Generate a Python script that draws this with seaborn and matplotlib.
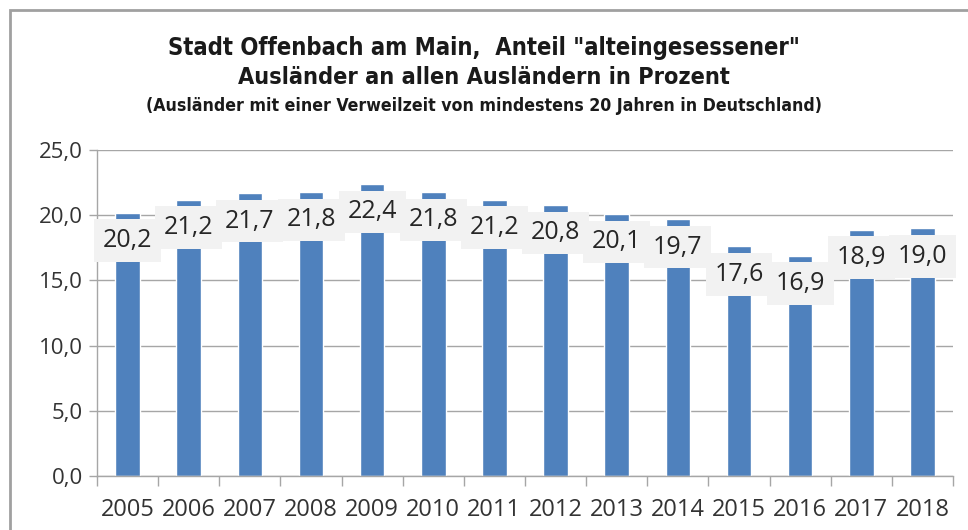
import matplotlib
matplotlib.use("Agg")
import matplotlib.pyplot as plt
import seaborn as sns
import pandas as pd
from matplotlib.patches import Rectangle

years = ["2005", "2006", "2007", "2008", "2009", "2010", "2011", "2012",
         "2013", "2014", "2015", "2016", "2017", "2018"]
values = [20.2, 21.2, 21.7, 21.8, 22.4, 21.8, 21.2, 20.8, 20.1, 19.7, 17.6, 16.9, 18.9, 19.0]
yticks = [0, 5, 10, 15, 20, 25]
title1 = 'Stadt Offenbach am Main,  Anteil "alteingesessener"'
title2 = "Ausländer an allen Ausländern in Prozent"
subtitle = "(Ausländer mit einer Verweilzeit von mindestens 20 Jahren in Deutschland)"

sns.set_theme(style="white")
plt.rcParams["font.family"] = ["Open Sans", "DejaVu Sans"]

df = pd.DataFrame({"year": years, "value": values})

fig = plt.figure(figsize=(9.68, 5.3), dpi=100)
ax = fig.add_axes([97 / 968, 1 - 476 / 530, (953 - 97) / 968, (476 - 150) / 530])

sns.barplot(data=df, x="year", y="value", color="#4f81bd", width=0.4,
            saturation=1, ax=ax, zorder=2)

ax.set_ylim(0, 25)
ax.set_xlim(-0.5, len(years) - 0.5)
ax.set_yticks(yticks)
ax.set_yticklabels([f"{v:.1f}".replace(".", ",") for v in yticks],
                   fontsize=16, color="#333333")
ax.set_xticks(range(len(years)))
ax.set_xticklabels(years, fontsize=17, color="#333333")
ax.set_xlabel("")
ax.set_ylabel("")
ax.grid(axis="y", color="#a6a6a6", linewidth=1, zorder=0)
ax.set_axisbelow(True)
for s in ["top", "right"]:
    ax.spines[s].set_visible(False)
for s in ["left", "bottom"]:
    ax.spines[s].set_color("#a6a6a6")
    ax.spines[s].set_linewidth(1)
ax.tick_params(axis="y", which="major", length=6, color="#a6a6a6", width=1,
               direction="out", left=True, pad=4)
ax.tick_params(axis="x", which="major", length=0, pad=16)
ax.set_xticks([i + 0.5 for i in range(-1, len(years))], minor=True)
ax.tick_params(axis="x", which="minor", length=7, color="#a6a6a6", width=1,
               direction="out", bottom=True)

for i, v in enumerate(values):
    ax.text(i, v - 2.15, f"{v:.1f}".replace(".", ","), ha="center", va="center",
            fontsize=18, color="#262626", zorder=4,
            bbox=dict(boxstyle="square,pad=0.35", facecolor="#f2f2f2",
                      edgecolor="none"))

tkw = dict(ha="center", va="center", fontweight="bold", color="#1a1a1a",
           family=["DejaVu Sans"], stretch="condensed")
fig.text(0.5, 1 - 48 / 530, title1, fontsize=17, **tkw)
fig.text(0.5, 1 - 78 / 530, title2, fontsize=16.8, **tkw)
fig.text(0.5, 1 - 106 / 530, subtitle, fontsize=12.7, **tkw)

fig.patches.append(Rectangle((10 / 968, -0.1), 1.2, 1 - 10 / 530 + 0.1,
                             transform=fig.transFigure, fill=False,
                             edgecolor="#a0a0a0", linewidth=2))

fig.savefig("out.png", dpi=100)
